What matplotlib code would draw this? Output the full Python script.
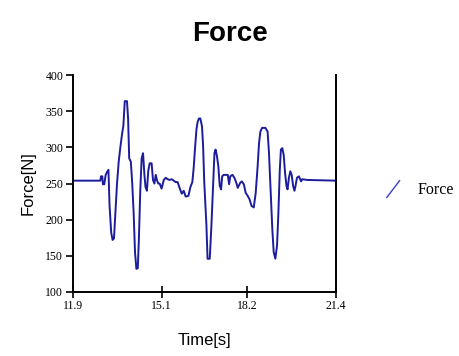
import matplotlib
matplotlib.use('Agg')
import matplotlib.pyplot as plt
from matplotlib.legend_handler import HandlerBase
from matplotlib.lines import Line2D

# force trace
time = [11.90, 12.89, 12.91, 12.96, 12.98, 13.03, 13.08, 13.13, 13.18, 13.22,
        13.28, 13.33, 13.38, 13.43, 13.49, 13.55, 13.61, 13.67, 13.72, 13.77,
        13.85, 13.89, 13.93, 13.99, 14.04, 14.09, 14.14, 14.19, 14.24, 14.28,
        14.33, 14.38, 14.43, 14.48, 14.52, 14.57, 14.62, 14.67, 14.74, 14.79,
        14.84, 14.89, 14.93, 14.98, 15.03, 15.10, 15.18, 15.25, 15.32, 15.39,
        15.46, 15.54, 15.61, 15.68, 15.75, 15.83, 15.90, 15.97, 16.07, 16.14,
        16.21, 16.26, 16.31, 16.36, 16.40, 16.45, 16.50, 16.56, 16.60, 16.64,
        16.72, 16.76, 16.84, 16.90, 16.96, 17.01, 17.05, 17.10, 17.15, 17.20,
        17.25, 17.29, 17.34, 17.40, 17.49, 17.54, 17.58, 17.66, 17.73, 17.80,
        17.85, 17.94, 18.00, 18.07, 18.14, 18.21, 18.28, 18.35, 18.43, 18.50,
        18.57, 18.62, 18.67, 18.73, 18.85, 18.93, 18.98, 19.03, 19.10, 19.15,
        19.21, 19.27, 19.32, 19.37, 19.41, 19.46, 19.51, 19.56, 19.61, 19.65,
        19.70, 19.75, 19.80, 19.85, 19.90, 19.94, 19.99, 20.06, 20.14, 20.18,
        20.35, 21.40]
force = [254, 254, 260, 260, 249, 249, 262, 266, 269, 220,
         182, 172, 174, 208, 250, 280, 300, 318, 330, 364,
         364, 340, 285, 280, 250, 210, 155, 132, 133, 173,
         240, 285, 292, 262, 245, 240, 268, 278, 278, 255,
         250, 262, 255, 250, 250, 243, 255, 258, 256, 255,
         256, 254, 252, 252, 244, 236, 240, 232, 233, 245,
         252, 272, 300, 325, 335, 340, 340, 329, 302, 253,
         192, 146, 146, 192, 247, 292, 297, 288, 274, 247,
         242, 260, 262, 262, 262, 249, 260, 262, 258, 251,
         244, 251, 253, 249, 237, 233, 228, 219, 217, 237,
         274, 306, 322, 327, 327, 322, 292, 247, 187, 155,
         146, 164, 210, 269, 297, 299, 290, 265, 247, 242,
         258, 267, 262, 247, 240, 247, 258, 260, 253, 256,
         255, 254]

xticks = [11.9, 15.1, 18.2, 21.4]
xlabels = ['11.9', '15.1', '18.2', '21.4']
yticks = [100, 150, 200, 250, 300, 350, 400]

line_color = '#1c1c9c'


class SlashHandler(HandlerBase):
    def create_artists(self, legend, orig, xd, yd, width, height, fontsize, trans):
        ln = Line2D([xd + width * 0.1, xd + width * 0.9],
                    [yd - height * 0.3, yd + height * 1.2],
                    color='#3a3ad0', lw=1.0, transform=trans)
        return [ln]


fig = plt.figure(figsize=(4.6, 3.56), dpi=100)
ax = fig.add_axes([0.1587, 0.1798, 0.5717, 0.6092])

line, = ax.plot(time, force, color=line_color, lw=1.4)

ax.set_xlim(11.9, 21.4)
ax.set_ylim(100, 400)
ax.set_xticks(xticks)
ax.set_xticklabels(xlabels)
ax.set_yticks(yticks)

ax.spines['top'].set_visible(False)
for s in ['left', 'bottom', 'right']:
    ax.spines[s].set_linewidth(1.4)
ax.tick_params(axis='y', direction='out', length=5, width=1.2, pad=2,
               labelsize=8.5)
ax.tick_params(axis='x', direction='inout', length=8, width=1.2, pad=2,
               labelsize=8.5)
for lbl in ax.get_xticklabels() + ax.get_yticklabels():
    lbl.set_family('Liberation Serif')

ax.set_xlabel('Time[s]', fontsize=12, family='Liberation Sans', labelpad=15)
ax.set_ylabel('Force[N]', fontsize=12, family='Liberation Sans', labelpad=7)

fig.text(0.5, 0.905, 'Force', ha='center', va='center', fontsize=20,
         fontweight='bold', family='Liberation Sans')

fig.legend([line], ['Force'], handler_map={line: SlashHandler()},
           loc='center left', bbox_to_anchor=(0.82, 0.466), frameon=False,
           handlelength=1.0, handletextpad=1.0, borderpad=0,
           prop={'family': 'Liberation Serif', 'size': 11.5})

fig.savefig('out.png', dpi=100)
